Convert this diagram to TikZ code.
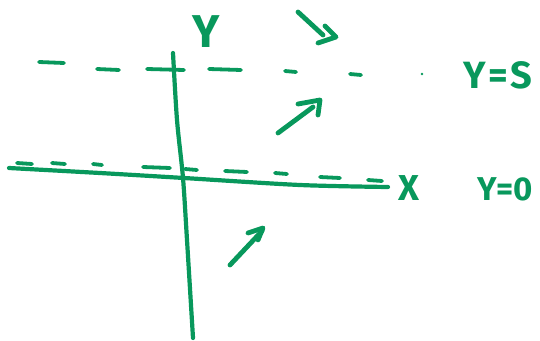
\documentclass[tikz,border=0pt]{standalone}
\usepackage{fontspec}
\setmainfont{Fira Sans}
\newfontfamily\spaced[LetterSpace=6]{Fira Sans}
\definecolor{pen}{RGB}{8,152,92}
\begin{document}
\begin{tikzpicture}[x=1pt,y=-1pt,
  axis/.style={pen,line width=4.2pt,line cap=round,line join=round},
  dsh/.style={pen,line width=3.8pt,line cap=round},
  arr/.style={pen,line width=4.8pt,line cap=round,line join=round},
  lbl/.style={pen,inner sep=0pt,anchor=base west}]
\useasboundingbox (0,0) rectangle (540,340);
% vertical axis
\draw[axis] plot[smooth] coordinates {(173,53) (177,120) (183,178) (187,240) (193,338)};
% horizontal axis
\draw[axis] plot[smooth] coordinates {(9,168) (100,173) (184,178) (300,185) (388,187)};
% dashed line near y=0
\foreach \a/\b/\y in {17/32/163, 52/65/163, 93/102/164, 143/170/167, 185/197/169, 225/247/171, 275/287/173, 320/340/177, 368/382/180}
  \draw[dsh] (\a,\y) -- (\b,\y+1);
% dashed line y=s
\foreach \a/\b/\y in {39/64/62, 97/119/69, 147/184/69, 209/241/69, 285/296/71, 350/361/74}
  \draw[dsh] (\a,\y) -- (\b,\y+1);
\fill[pen] (422,74) circle (1.3pt);
% arrows
\draw[arr] (298,12) -- (323,35);
\draw[arr] (325,26) -- (336,37) -- (318,43);
\draw[arr] (278,133) -- (313,107);
\draw[arr] (298,104) -- (320,100) -- (318,115);
\draw[arr] (230,265) -- (262,231);
\draw[arr] (248,233) -- (263,228) -- (258,240);
% labels
\node[lbl,font=\bfseries\fontsize{46}{46}\selectfont] (ly) at (192,47) {Y};
\node[lbl,font=\bfseries\fontsize{36}{36}\selectfont] (lx) at (398,200) {X};
\node[lbl,font=\spaced\bfseries\fontsize{38}{38}\selectfont] (ls) at (463,88) {Y=S};
\node[lbl,font=\bfseries\fontsize{33}{33}\selectfont] (l0) at (477,200) {Y=0};
\end{tikzpicture}
\end{document}
